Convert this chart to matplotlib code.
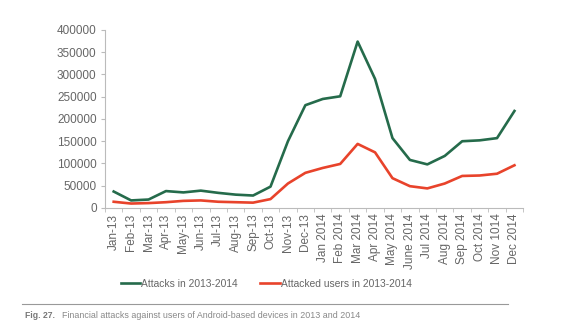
import matplotlib
matplotlib.use("Agg")
import matplotlib.pyplot as plt
import numpy as np

plt.rcParams['font.family'] = ['Liberation Sans', 'DejaVu Sans']

months = ['Jan-13', 'Feb-13', 'Mar-13', 'Apr-13', 'May-13', 'Jun-13', 'Jul-13', 'Aug-13',
          'Sep-13', 'Oct-13', 'Nov-13', 'Dec-13', 'Jan 2014', 'Feb 2014', 'Mar 2014',
          'Apr 2014', 'May 2014', 'June 2014', 'Jul 2014', 'Aug 2014', 'Sep 2014',
          'Oct 2014', 'Nov 1014', 'Dec 2014']
attacks = [37000, 17000, 19000, 38000, 35000, 39000, 34000, 30000, 28000, 48000, 150000,
           231000, 245000, 251000, 374000, 290000, 157000, 108000, 98000, 117000, 150000,
           152000, 157000, 218000]
attacked_users = [14000, 10000, 11000, 13000, 16000, 17000, 14000, 13000, 12000, 20000,
                  55000, 79000, 90000, 99000, 144000, 125000, 67000, 49000, 44000, 55000,
                  72000, 73000, 77000, 96000]

GREEN = '#256b4b'
RED = '#e8432b'
GREY = '#666666'

fig = plt.figure(figsize=(5.8, 3.26), dpi=100)
ax = fig.add_axes([0.181, 0.362, 0.721, 0.546])

x = np.arange(len(months))
ax.plot(x, attacks, color=GREEN, lw=1.9, label='Attacks in 2013-2014')
ax.plot(x, attacked_users, color=RED, lw=1.9, label='Attacked users in 2013-2014')

ax.set_xlim(-0.5, len(months) - 0.5)
ax.set_ylim(0, 400000)
ax.set_yticks(np.arange(0, 400001, 50000))
ax.set_yticklabels([str(v) for v in range(0, 400001, 50000)])
ax.set_xticks(x)
ax.set_xticklabels(months, rotation=90)
ax.set_xticks(np.arange(-0.5, len(months), 1), minor=True)
ax.tick_params(axis='x', which='major', length=0, labelsize=8.5, colors=GREY, pad=4)
ax.tick_params(axis='x', which='minor', length=3, color='#bbbbbb')
ax.tick_params(axis='y', length=3, color='#bbbbbb', labelsize=8.5, labelcolor=GREY, pad=3)

for s in ['top', 'right']:
    ax.spines[s].set_visible(False)
for s in ['left', 'bottom']:
    ax.spines[s].set_color('#bbbbbb')
    ax.spines[s].set_linewidth(0.8)

leg = fig.legend(loc='center', bbox_to_anchor=(0.459, 0.129), ncol=2, frameon=False,
                 fontsize=7.4, handlelength=1.9, handletextpad=0.1, columnspacing=2.2)
for t in leg.get_texts():
    t.set_color(GREY)

# caption rule and text
fig.add_artist(plt.Line2D([0.038, 0.876], [0.068, 0.068], color='#999999', lw=0.8))
fig.text(0.043, 0.033, 'Fig. 27.', fontsize=6.2, color='#777777', fontweight='bold', va='center')
fig.text(0.107, 0.033, 'Financial attacks against users of Android-based devices in 2013 and 2014',
         fontsize=6.4, color='#888888', va='center')

fig.savefig('out.png', dpi=100)
